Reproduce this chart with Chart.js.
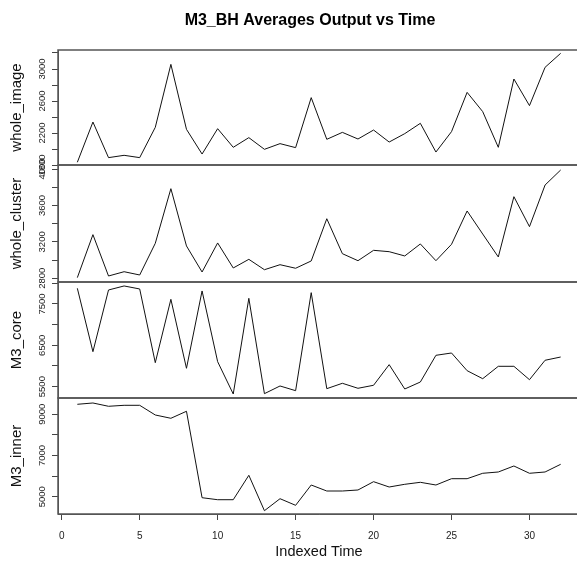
<!DOCTYPE html>
<html>
<head>
<meta charset="utf-8">
<script src="https://cdn.jsdelivr.net/npm/chart.js@4/dist/chart.umd.min.js"></script>
<style>
  html, body { margin: 0; padding: 0; background: #fff; width: 577px; height: 565px; overflow: hidden; }
  #wrap { position: relative; width: 577px; height: 565px; overflow: hidden; }
  .p { position: absolute; left: 0; width: 620px; }
  canvas { display: block; }
</style>
</head>
<body>
<div id="wrap">
  <div class="p" style="top:0px;height:180px"><canvas id="c1" width="620" height="180" style="width:620px;height:180px"></canvas></div>
  <div class="p" style="top:150px;height:147px"><canvas id="c2" width="620" height="147" style="width:620px;height:147px"></canvas></div>
  <div class="p" style="top:267px;height:146px"><canvas id="c3" width="620" height="146" style="width:620px;height:146px"></canvas></div>
  <div class="p" style="top:383px;height:182px"><canvas id="c4" width="620" height="182" style="width:620px;height:182px"></canvas></div>
</div>
<script>
// ---- data ----
const indexedTime = [1,2,3,4,5,6,7,8,9,10,11,12,13,14,15,16,17,18,19,20,21,22,23,24,25,26,27,28,29,30,31,32];
const wholeImage = [1834, 2337, 1892, 1921, 1892, 2271, 3058, 2246, 1937, 2254, 2021, 2142, 1996, 2067, 2017, 2642,
                    2121, 2208, 2125, 2237, 2087, 2192, 2321, 1962, 2217, 2708, 2467, 2021, 2875, 2542, 3021, 3196];
const wholeCluster = [2807, 3279, 2825, 2872, 2836, 3184, 3784, 3155, 2869, 3188, 2913, 3008, 2894, 2949, 2910, 2990,
                      3454, 3070, 2993, 3107, 3092, 3045, 3177, 2993, 3173, 3539, 3286, 3034, 3696, 3367, 3824, 3989];
const m3Core = [7880, 6346, 7839, 7936, 7863, 6080, 7613, 5944, 7815, 6104, 5322, 7637, 5330, 5516, 5402, 7774,
                5451, 5581, 5460, 5533, 6032, 5443, 5612, 6258, 6314, 5886, 5692, 5992, 5992, 5668, 6138, 6217];
const m3Inner = [9485, 9548, 9388, 9436, 9436, 8966, 8806, 9146, 4955, 4858, 4858, 6042, 4325, 4907, 4586, 5571,
                 5280, 5280, 5329, 5732, 5474, 5605, 5702, 5571, 5877, 5877, 6139, 6202, 6493, 6139, 6202, 6575];

// tick positions (all ticks) and the ones that carry a label
const imageTicks = [1800, 2000, 2200, 2400, 2600, 2800, 3000, 3200];
const imageTickLabels = [1800, 2200, 2600, 3000];
const clusterTicks = [2800, 3000, 3200, 3400, 3600, 3800, 4000];
const clusterTickLabels = [2800, 3200, 3600, 4000];
const coreTicks = [5500, 6000, 6500, 7000, 7500, 8000];
const coreTickLabels = [5500, 6500, 7500];
const innerTicks = [5000, 6000, 7000, 8000, 9000];
const innerTickLabels = [5000, 7000, 9000];
const timeTicks = [0, 5, 10, 15, 20, 25, 30];

const chartTitle = 'M3_BH Averages Output vs Time';
const xTitle = 'Indexed Time';

// ---- helpers ----
const FONT = 'Liberation Sans, Arial, sans-serif';

function pts(ys) { return indexedTime.map((x, i) => ({ x: x, y: ys[i] })); }

function setTicks(values) {
  return function (scale) { scale.ticks = values.map(v => ({ value: v })); };
}

const boxPlugin = {
  id: 'box',
  afterDraw(chart) {
    const a = chart.chartArea, ctx = chart.ctx;
    ctx.save();
    ctx.strokeStyle = '#555';
    ctx.lineWidth = 1.5;
    ctx.strokeRect(a.left, a.top, a.right - a.left, a.bottom - a.top);
    // rotated y tick labels (R style, parallel to axis)
    const ys = chart.scales.y;
    const labels = chart.options.plugins.box.labels;
    ctx.fillStyle = '#222';
    ctx.font = '9.5px ' + FONT;
    ctx.textAlign = 'center';
    ctx.textBaseline = 'middle';
    labels.forEach(v => {
      const p = ys.getPixelForValue(v);
      ctx.save();
      ctx.translate(42, p);
      ctx.rotate(-Math.PI / 2);
      ctx.fillText(String(v), 0, 0);
      ctx.restore();
    });
    ctx.restore();
  }
};

function makePanel(id, data, label, ymin, ymax, ticks, tickLabels, opts) {
  const last = !!opts.last;
  const first = !!opts.first;
  const xScale = {
    type: 'linear',
    display: last,
    min: -0.24,
    max: 33.24,
    afterBuildTicks: setTicks(timeTicks),
    ticks: {
      color: '#222',
      font: { family: FONT, size: 10 },
      padding: 10,
      maxRotation: 0,
      autoSkip: false
    },
    grid: { drawOnChartArea: false, drawTicks: true, tickLength: 6, color: '#444' },
    border: { display: true, color: '#555', width: 1 },
    title: {
      display: true,
      text: xTitle,
      color: '#111',
      font: { family: FONT, size: 14.5, lineHeight: 1.2 },
      padding: { top: 0, bottom: 4 }
    }
  };
  if (last) xScale.afterFit = function (scale) { scale.height = 51; };
  const scales = {
    x: xScale,
    y: {
      type: 'linear',
      min: ymin,
      max: ymax,
      afterBuildTicks: setTicks(ticks),
      afterFit(scale) { scale.width = 58; },
      ticks: { display: false },
      grid: { drawOnChartArea: false, drawTicks: true, tickLength: 6, color: '#444' },
      border: { display: true, color: '#555', width: 1 },
      title: {
        display: true,
        text: label,
        color: '#111',
        font: { family: FONT, size: 15, lineHeight: 1.2 },
        padding: { top: 8, bottom: 0 }
      }
    }
  };
  // empty right-hand spacer so the main title is centred like the original
  scales.spacer = {
    type: 'linear',
    position: 'right',
    display: true,
    min: 0,
    max: 1,
    afterFit(scale) { scale.width = 40; },
    ticks: { display: false },
    grid: { display: false, drawTicks: false },
    border: { display: false }
  };
  return new Chart(document.getElementById(id), {
    type: 'line',
    data: {
      datasets: [{
        label: label,
        data: pts(data),
        borderColor: '#111',
        borderWidth: 1,
        pointRadius: 0,
        tension: 0,
        fill: false
      }]
    },
    options: {
      responsive: false,
      maintainAspectRatio: false,
      animation: false,
      devicePixelRatio: 1,
      layout: { padding: { left: 0, right: 0, top: first ? 0 : 15, bottom: last ? 0 : 15 } },
      plugins: {
        legend: { display: false },
        tooltip: { enabled: false },
        title: first ? {
          display: true,
          text: chartTitle,
          color: '#000',
          font: { family: FONT, size: 16, weight: 'bold', lineHeight: 1.2 },
          padding: { top: 11, bottom: 19.8 }
        } : { display: false },
        box: { labels: tickLabels }
      },
      scales: scales
    },
    plugins: [boxPlugin]
  });
}

makePanel('c1', wholeImage, 'whole_image', 1800, 3237.5, imageTicks, imageTickLabels, { first: true });
makePanel('c2', wholeCluster, 'whole_cluster', 2759, 4044, clusterTicks, clusterTickLabels, {});
makePanel('c3', m3Core, 'M3_core', 5225, 8032, coreTicks, coreTickLabels, {});
makePanel('c4', m3Inner, 'M3_inner', 4165, 9790, innerTicks, innerTickLabels, { last: true });
</script>
</body>
</html>
